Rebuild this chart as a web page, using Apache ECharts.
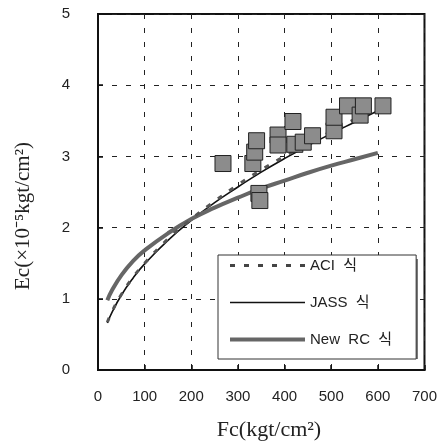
<!DOCTYPE html>
<html>
<head>
<meta charset="utf-8">
<script src="https://cdn.jsdelivr.net/npm/echarts@6/dist/echarts.min.js"></script>
<style>html,body{margin:0;padding:0;background:#fff;}#c{width:440px;height:446px;}</style>
</head>
<body>
<div id="c"></div>
<script>
// Measured data (Fc in kgt/cm2, Ec in 10^5 kgt/cm2)
var testFc = [268, 332, 336, 340, 345, 347, 386, 386, 418, 422, 440, 460, 506, 506, 535, 562, 569, 611];
var testEc = [2.90, 2.90, 3.06, 3.22, 2.48, 2.38, 3.30, 3.16, 3.49, 3.17, 3.20, 3.29, 3.36, 3.55, 3.71, 3.58, 3.71, 3.71];

var curveFc = [20, 30, 50, 75, 100, 150, 200, 250, 300, 350, 400, 450, 500, 550, 600];
var aciEc   = [0.67, 0.82, 1.06, 1.30, 1.50, 1.84, 2.12, 2.37, 2.60, 2.81, 3.00, 3.18, 3.35, 3.52, 3.67];
var jassEc  = [0.66, 0.81, 1.05, 1.29, 1.49, 1.82, 2.10, 2.35, 2.57, 2.78, 2.97, 3.15, 3.32, 3.48, 3.64];
var newRcEc = [0.98, 1.12, 1.33, 1.53, 1.68, 1.92, 2.12, 2.28, 2.42, 2.55, 2.66, 2.77, 2.87, 2.96, 3.05];

var xTicks = [0, 700, 100];
var yTicks = [0, 5, 1];
var seriesNames = ['ACI  식', 'JASS  식', 'New  RC  식'];

function pairs(xs, ys) { return xs.map(function (x, i) { return [x, ys[i]]; }); }

var chart = echarts.init(document.getElementById('c'), null, { renderer: 'canvas' });
var sans = 'Liberation Sans, Arial, Noto Sans CJK KR, sans-serif';
var serif = 'Liberation Serif, Times New Roman, serif';
var grid = { type: [5, 9], color: '#222', width: 1 };

chart.setOption({
  animation: false,
  backgroundColor: '#fff',
  grid: { left: 98, top: 14, right: 12, bottom: 76, show: true, borderColor: '#111', borderWidth: 2, backgroundColor: 'transparent' },
  xAxis: {
    type: 'value', min: xTicks[0], max: xTicks[1], interval: xTicks[2],
    axisLine: { show: true, lineStyle: { color: '#111', width: 2 } },
    axisTick: { show: true, inside: true, length: 5, lineStyle: { color: '#111', width: 1.5 } },
    splitLine: { show: true, lineStyle: grid },
    axisLabel: { fontSize: 15, color: '#222', fontFamily: sans, margin: 19 }
  },
  yAxis: {
    type: 'value', min: yTicks[0], max: yTicks[1], interval: yTicks[2],
    axisLine: { show: true, lineStyle: { color: '#111', width: 2 } },
    axisTick: { show: true, inside: true, length: 5, lineStyle: { color: '#111', width: 1.5 } },
    splitLine: { show: true, lineStyle: grid },
    axisLabel: { fontSize: 15, color: '#222', fontFamily: sans, margin: 28 }
  },
  legend: {
    data: [
      { name: seriesNames[0], lineStyle: { width: 3, type: [5, 9], color: '#444' } },
      { name: seriesNames[1], lineStyle: { width: 1.6, color: '#111' } },
      { name: seriesNames[2], lineStyle: { width: 4, color: '#666' } }
    ],
    orient: 'vertical',
    left: 218, top: 255,
    padding: [3, 24, 12, 10],
    itemGap: 22,
    itemWidth: 75, itemHeight: 14,
    backgroundColor: '#fff',
    borderColor: '#333', borderWidth: 1,
    itemStyle: { opacity: 0 },
    textStyle: { fontSize: 15, color: '#222', fontFamily: sans },
    selectedMode: false,
    z: 20
  },
  graphic: [
    { type: 'rect', z: 19, shape: { x: 222, y: 259, width: 196, height: 100 }, style: { fill: '#7a7a7a' } },
    { type: 'text', x: 269, y: 430, style: {
        text: 'Fc(kgt/cm²)', font: '22px ' + serif, fill: '#222',
        textAlign: 'center', textVerticalAlign: 'middle' } },
    { type: 'text', x: 23, y: 216, rotation: Math.PI / 2, style: {
        text: 'Ec(×10⁻⁵kgt/cm²)', font: '21px ' + serif, fill: '#222',
        textAlign: 'center', textVerticalAlign: 'middle' } }
  ],
  series: [
    { name: seriesNames[1], type: 'line', smooth: true, symbol: 'none', z: 3,
      data: pairs(curveFc, jassEc), lineStyle: { color: '#111', width: 1.6 }, itemStyle: { color: '#111' } },
    { name: seriesNames[0], type: 'line', smooth: true, symbol: 'none', z: 4,
      data: pairs(curveFc, aciEc), lineStyle: { color: '#555', width: 3, type: [5, 9] }, itemStyle: { color: '#555' } },
    { name: seriesNames[2], type: 'line', smooth: true, symbol: 'none', z: 3,
      data: pairs(curveFc, newRcEc), lineStyle: { color: '#666', width: 4 }, itemStyle: { color: '#666' } },
    { type: 'scatter', symbol: 'rect', symbolSize: 16, z: 6,
      data: pairs(testFc, testEc),
      itemStyle: { color: '#8c8c8c', borderColor: '#222', borderWidth: 1, opacity: 1 } }
  ]
});
</script>
</body>
</html>
